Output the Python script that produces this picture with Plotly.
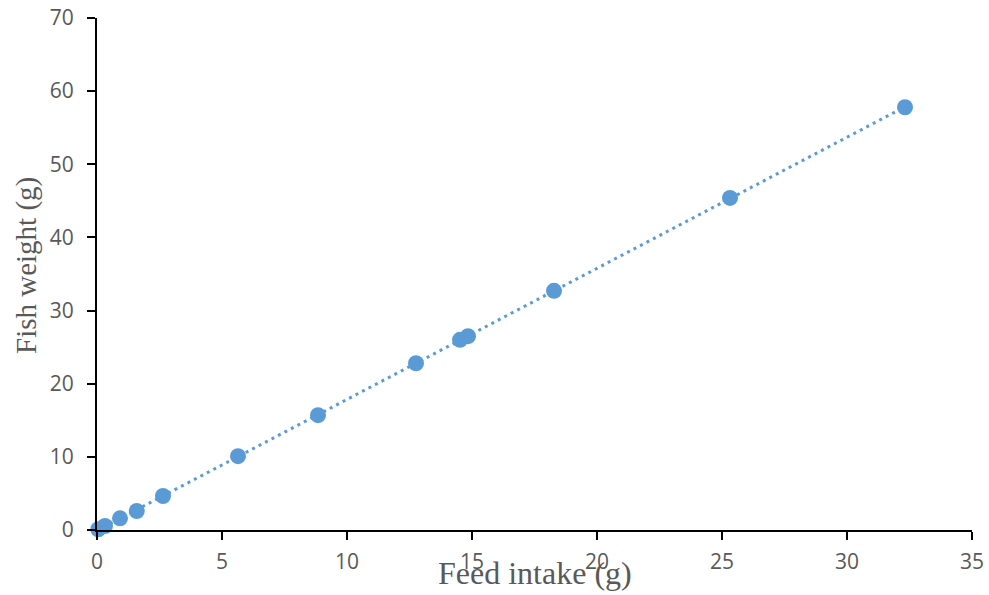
import numpy as np
import plotly.graph_objects as go

# Feed intake vs fish weight observations (grams)
feed_intake = [0.05, 0.32, 0.92, 1.59, 2.64, 5.64, 8.84, 12.76, 14.52, 14.84, 18.28, 25.32, 32.32]
fish_weight = [0.1, 0.55, 1.6, 2.6, 4.65, 10.1, 15.7, 22.8, 26.0, 26.5, 32.7, 45.4, 57.8]

x_ticks = [0, 5, 10, 15, 20, 25, 30, 35]
y_ticks = [0, 10, 20, 30, 40, 50, 60, 70]

BLUE = "#5B9BD5"
GREY = "#595959"

# Linear least-squares trendline across the observed feed range
slope, intercept = np.polyfit(feed_intake, fish_weight, 1)
trend_x = np.array([0.0, max(feed_intake)])
trend_y = slope * trend_x + intercept

fig = go.Figure()
fig.add_trace(go.Scatter(
    x=trend_x, y=trend_y, mode="lines",
    line=dict(color=BLUE, width=3, dash="3px,4.3px"),
    hoverinfo="skip", showlegend=False, cliponaxis=False,
))
fig.add_trace(go.Scatter(
    x=feed_intake, y=fish_weight, mode="markers",
    marker=dict(color=BLUE, size=16, line=dict(width=0)),
    showlegend=False, cliponaxis=False,
))

axis_common = dict(
    showgrid=False, zeroline=False, showline=True, linecolor="black", linewidth=2,
    ticks="outside", ticklen=8, tickwidth=1.5, tickcolor="black", automargin=False,
    tickfont=dict(family="Open Sans", size=21, color=GREY),
)
fig.update_xaxes(range=[0, 35], tickvals=x_ticks, ticklabelstandoff=4, **axis_common)
fig.update_yaxes(range=[0, 70], tickvals=y_ticks, ticklabelstandoff=9, **axis_common)

fig.add_annotation(text="Feed intake (g)", xref="paper", yref="paper", x=0.5, y=0,
                   yshift=-43, xanchor="center", yanchor="middle", showarrow=False,
                   font=dict(family="Liberation Serif", size=32, color=GREY))
fig.add_annotation(text="Fish weight (g)", xref="paper", yref="paper", x=0, y=0.5,
                   xshift=-71, yshift=8, xanchor="center", yanchor="middle", textangle=-90,
                   showarrow=False,
                   font=dict(family="Liberation Serif", size=29, color=GREY))

fig.update_layout(
    width=989, height=595,
    margin=dict(l=97, r=17, t=18, b=65),
    paper_bgcolor="white", plot_bgcolor="white",
)

fig.write_html("out.html")
